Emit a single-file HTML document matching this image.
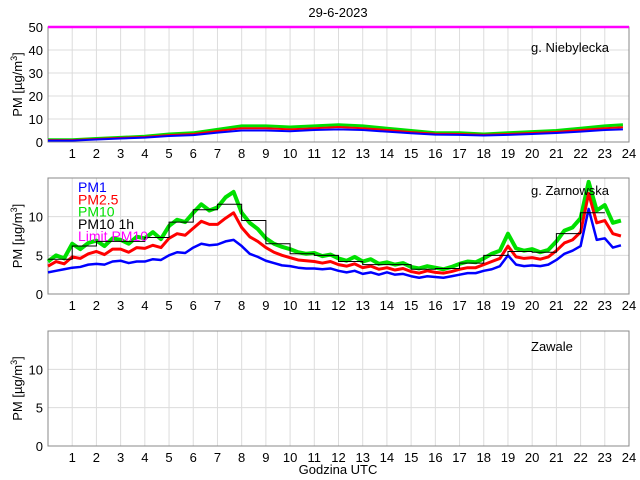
<!DOCTYPE html>
<html><head><meta charset="utf-8"><style>
body{margin:0;background:#fff}
svg{display:block;font-family:"Liberation Sans",Arial,sans-serif}
</style></head><body>
<svg id="c" width="640" height="480"></svg>
<script>
const hours=[1,2,3,4,5,6,7,8,9,10,11,12,13,14,15,16,17,18,19,20,21,22,23,24];
const p1Green=[1,1,1.5,2,2.5,3.5,4,5.5,7,7,6.5,7,7.5,7,6,5,4,4,3.5,4,4.5,5,6,7,7.5];
const p1Red=[0.8,0.8,1.3,1.8,2.2,3,3.5,4.8,6,6,5.5,6,6.5,6,5.2,4.3,3.6,3.5,3.1,3.5,3.9,4.4,5.2,6,6.4];
const p1Blue=[0.6,0.6,1.1,1.5,1.9,2.6,3,4.1,5,5,4.7,5.2,5.5,5.2,4.5,3.8,3.2,3.1,2.8,3.1,3.5,3.9,4.5,5.2,5.5];
const p2Green=[4.2,5.0,4.6,6.5,5.8,6.6,6.9,6.2,7.2,7.0,6.5,7.4,7.2,8.0,7.1,8.8,9.6,9.3,10.5,11.6,10.8,11.2,12.5,13.2,10.5,9.2,8.4,7.2,6.5,6.1,5.8,5.4,5.2,5.3,4.9,5.1,4.6,4.3,4.8,4.2,4.5,3.9,4.1,3.8,4.0,3.5,3.3,3.6,3.4,3.2,3.5,3.9,4.2,4.1,4.6,5.2,5.6,7.8,5.9,5.6,5.8,5.4,5.7,6.8,8.2,8.6,9.8,14.5,10.8,11.5,9.2,9.5];
const p2Red=[3.6,4.2,3.9,4.8,4.6,5.2,5.5,5.1,5.8,5.8,5.4,6.0,5.9,6.3,6.0,7.2,7.8,7.6,8.5,9.4,9.0,9.0,9.8,10.5,8.6,7.4,6.8,6.0,5.4,5.0,4.7,4.4,4.3,4.2,4.0,4.2,3.8,3.6,3.9,3.4,3.6,3.2,3.4,3.1,3.3,2.9,2.7,3.0,2.8,2.7,2.9,3.2,3.4,3.4,3.8,4.2,4.6,6.2,4.8,4.6,4.7,4.5,4.8,5.6,6.6,7.0,8.0,13.0,9.2,9.5,7.8,7.5];
const p2Blue=[2.8,3.0,3.2,3.4,3.5,3.8,3.9,3.8,4.2,4.3,4.0,4.2,4.2,4.5,4.4,5.0,5.4,5.3,6.0,6.5,6.3,6.4,6.8,7.0,6.2,5.2,4.8,4.3,4.0,3.7,3.6,3.4,3.3,3.3,3.2,3.3,3.0,2.8,3.0,2.6,2.8,2.5,2.8,2.5,2.6,2.3,2.1,2.3,2.2,2.1,2.3,2.5,2.7,2.7,3.0,3.2,3.6,5.0,3.8,3.6,3.7,3.6,3.8,4.4,5.2,5.6,6.2,11.0,7.0,7.2,6.0,6.3];
const p2Hourly=[4.5,6.2,6.8,6.8,7.3,9.3,10.9,11.6,9.5,6.5,5.2,5.0,4.2,3.8,3.8,3.2,3.3,4.0,5.0,5.5,5.4,7.8,10.5];
const limitPM10=50;

const NS="http://www.w3.org/2000/svg",svg=document.getElementById('c');
function mk(t,a,p){const e=document.createElementNS(NS,t);for(const k in a)e.setAttribute(k,a[k]);(p||svg).appendChild(e);return e;}
const X0=48,X1=629;
const xs=h=>X0+(X1-X0)*h/24;
function panel(top,bot,ymax,yticks,name){
  const g=mk('g',{});
  
  
  const ys=v=>bot-(bot-top)*v/ymax;
  mk('rect',{x:X0,y:top,width:X1-X0,height:bot-top,fill:'#fff',stroke:'none'},g);
  hours.forEach(h=>{if(h<24){const l=mk('line',{x1:xs(h),x2:xs(h),y1:top,y2:bot,stroke:'#dcdcdc','stroke-width':1},g);
    }
    const t=mk('text',{x:xs(h),y:bot+16,'font-size':13,'text-anchor':'middle'},g);t.textContent=h;
    });
  yticks.forEach(v=>{if(v>0&&v<ymax){mk('line',{x1:X0,x2:X1,y1:ys(v),y2:ys(v),stroke:'#dcdcdc'},g);}
    const t=mk('text',{x:X0-5,y:ys(v)+5,'font-size':13,'text-anchor':'end'},g);t.textContent=v;
    });
  mk('rect',{x:X0,y:top,width:X1-X0,height:bot-top,fill:'none',stroke:'#888'},g);
  const yl=mk('text',{transform:`translate(22,${(top+bot)/2}) rotate(-90)`,'font-size':13,'text-anchor':'middle'},g);
  yl.innerHTML='PM [µg/m<tspan dy="-5" font-size="9">3</tspan><tspan dy="5">]</tspan>';
  
  return {g,ys};
}
function line(p,data,step,col,w,name){
  const pts=data.map((v,i)=>[xs(Math.min(i*step,23.75)),p.ys(v)]);
  const l=mk('polyline',{points:pts.map(q=>q.join(',')).join(' '),fill:'none',stroke:col,'stroke-width':w,'stroke-linejoin':'round'},p.g);
  
}
const t=mk('text',{x:338,y:17,'font-size':13,'text-anchor':'middle'});t.textContent='29-6-2023';


const A=panel(27,142,50,[0,10,20,30,40,50],'panel-niebylecka');
line(A,p1Green,1,'#00e000',3,'pm10-niebylecka');
line(A,p1Red,1,'#ff0000',2,'pm25-niebylecka');
line(A,p1Blue,1,'#0000ff',2,'pm1-niebylecka');
const lim=mk('line',{x1:X0,x2:X1,y1:A.ys(limitPM10),y2:A.ys(limitPM10),stroke:'#ff00ff','stroke-width':2.5},A.g);

let s=mk('text',{x:531,y:52,'font-size':13},A.g);s.textContent='g. Niebylecka';


const B=panel(178,294,15,[0,5,10],'panel-zarnowska');
line(B,p2Green,1/3,'#00e000',4,'pm10-zarnowska');
line(B,p2Red,1/3,'#ff0000',3,'pm25-zarnowska');
line(B,p2Blue,1/3,'#0000ff',2.5,'pm1-zarnowska');
let d='';p2Hourly.forEach((v,i)=>{d+=(i?'L':'M')+xs(i)+','+B.ys(v)+'H'+xs(i+1);});
const hl=mk('path',{d,fill:'none',stroke:'#000','stroke-width':1},B.g);

s=mk('text',{x:531,y:195,'font-size':13},B.g);s.textContent='g. Zarnowska';

[['PM1','#0000ff'],['PM2.5','#ff0000'],['PM10','#00e000'],['PM10 1h','#000'],['Limit PM10','#ff00ff']].forEach((e,i)=>{
  const l=mk('text',{x:78,y:192+i*12.3,'font-size':14,fill:e[1]},B.g);l.textContent=e[0];
  });

const C=panel(331,446,15,[0,5,10],'panel-zawale');
s=mk('text',{x:531,y:351,'font-size':13},C.g);s.textContent='Zawale';

const xl=mk('text',{x:338,y:474,'font-size':13,'text-anchor':'middle'});xl.textContent='Godzina UTC';

</script>
</body></html>
